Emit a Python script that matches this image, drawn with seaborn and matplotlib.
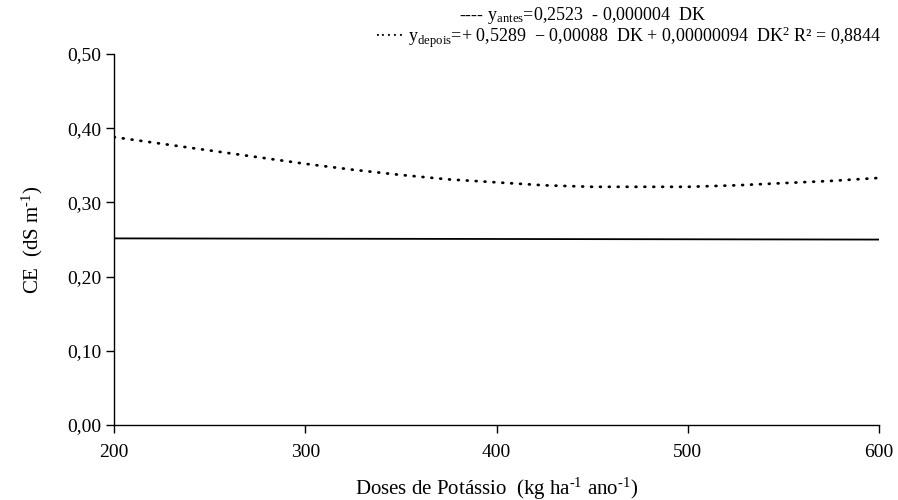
import matplotlib
matplotlib.use("Agg")
import matplotlib.pyplot as plt
import seaborn as sns
import pandas as pd

# Data
doses = [200, 225, 250, 275, 300, 325, 350, 375, 400, 425, 450, 475, 500, 525, 550, 575, 600]
ce_depois = [0.388, 0.379, 0.370, 0.361, 0.352, 0.344, 0.337, 0.331, 0.327, 0.323, 0.321,
             0.321, 0.321, 0.323, 0.326, 0.329, 0.333]
ce_antes = [0.2515, 0.2514, 0.2513, 0.2512, 0.2511, 0.2510, 0.2509, 0.2508, 0.2507, 0.2506,
            0.2505, 0.2504, 0.2503, 0.2502, 0.2501, 0.2500, 0.2499]
y_ticks = [0.0, 0.1, 0.2, 0.3, 0.4, 0.5]
y_tick_labels = ["0,00", "0,10", "0,20", "0,30", "0,40", "0,50"]
x_ticks = [200, 300, 400, 500, 600]

sns.set_theme(style="ticks")
plt.rcParams['font.family'] = ['Liberation Serif', 'DejaVu Serif']
plt.rcParams['mathtext.fontset'] = 'custom'
plt.rcParams['mathtext.rm'] = 'Liberation Serif'
plt.rcParams['mathtext.it'] = 'Liberation Serif:italic'
plt.rcParams['mathtext.bf'] = 'Liberation Serif:bold'

df = pd.DataFrame({"dose": doses, "antes": ce_antes, "depois": ce_depois})

fig = plt.figure(figsize=(8.98, 5.0), dpi=100)
ax = fig.add_axes([0.127, 0.15, 0.852, 0.742])

sns.lineplot(data=df, x="dose", y="antes", ax=ax, color="black", linewidth=1.3)
sns.lineplot(data=df, x="dose", y="depois", ax=ax, color="black", linewidth=2.0,
             linestyle=(0, (0.3, 2.9)), dash_capstyle="round")

ax.set_xlim(200, 600)
ax.set_ylim(0, 0.5)
ax.set_xticks(x_ticks)
ax.set_xticklabels([str(t) for t in x_ticks])
ax.set_yticks(y_ticks)
ax.set_yticklabels(y_tick_labels)
ax.tick_params(axis="both", labelsize=14, colors="black", direction="out", length=6, width=1.0, pad=3)
ax.tick_params(axis="x", pad=8)
for s in ["top", "right"]:
    ax.spines[s].set_visible(False)
for s in ["left", "bottom"]:
    ax.spines[s].set_color("black")
    ax.spines[s].set_linewidth(1.0)

ax.set_xlabel(r"Doses de Potássio  (kg ha$^{\text{-1}}$ ano$^{\text{-1}}$)", fontsize=15, color="black", labelpad=10)
ax.set_ylabel(r"CE  (dS m$^{\text{-1}}$)", fontsize=15, color="black", labelpad=16)

fig.text(0.649, 0.970, r"---- y$_{\mathrm{antes}}$=0,2523  - 0,000004  DK",
         ha="center", va="center", fontsize=13, color="black")
fig.text(0.699, 0.925,
         r"····· y$_{\mathrm{depois}}$=+ 0,5289  $-$ 0,00088  DK + 0,00000094  DK$^{\mathrm{2}}$ R² = 0,8844",
         ha="center", va="center", fontsize=13, color="black")

fig.savefig("out.png", dpi=100)
